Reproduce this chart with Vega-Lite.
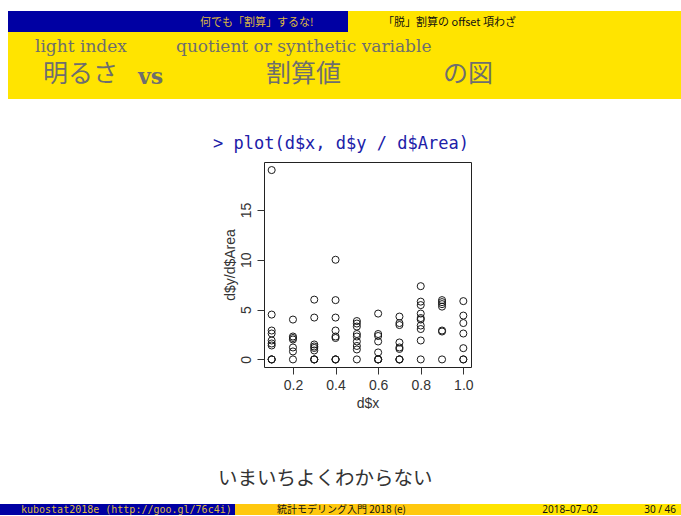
{
  "$schema": "https://vega.github.io/schema/vega-lite/v6.json",
  "padding": {"top": 11, "left": 0, "right": 0, "bottom": 0},
  "background": "white",
  "spacing": 0,
  "bounds": "full",
  "config": {
    "view": {"stroke": null},
    "concat": {"spacing": 0},
    "title": {"anchor": "start", "frame": "group", "orient": "top", "fontWeight": "normal", "baseline": "middle"}
  },
  "vconcat": [
    {
      "spacing": 0, "bounds": "flush",
      "hconcat": [
        {"width": 8, "height": 21, "data": {"values": []}, "mark": "rect"},
        {"width": 340, "height": 21, "view": {"fill": "#0000A3", "stroke": null}, "data": {"values": []}, "mark": "rect",
         "title": {"text": "何でも「割算」するな!", "font": "Noto Sans CJK JP", "fontSize": 11, "color": "#DDB840", "dx": 192, "offset": -16.5}},
        {"width": 333, "height": 21, "view": {"fill": "#FFE400", "stroke": null}, "data": {"values": []}, "mark": "rect",
         "title": {"text": "「脱」割算の offset 項わざ", "font": "Noto Sans CJK JP", "fontSize": 11, "color": "#111111", "dx": 35, "offset": -16.5}}
      ]
    },
    {
      "spacing": 0, "bounds": "flush",
      "hconcat": [
        {"width": 8, "height": 26, "data": {"values": []}, "mark": "rect"},
        {"width": 168, "height": 26, "view": {"fill": "#FFE400", "stroke": null}, "data": {"values": []}, "mark": "rect",
         "title": {"text": "light index", "font": "DejaVu Serif", "fontSize": 17, "color": "#6E6E6E", "dx": 27, "offset": -23.5}},
        {"width": 505, "height": 26, "view": {"fill": "#FFE400", "stroke": null}, "data": {"values": []}, "mark": "rect",
         "title": {"text": "quotient or synthetic variable", "font": "DejaVu Serif", "fontSize": 17, "color": "#6E6E6E", "dx": 0, "offset": -23.5}}
      ]
    },
    {
      "spacing": 0, "bounds": "flush",
      "hconcat": [
        {"width": 8, "height": 41, "data": {"values": []}, "mark": "rect"},
        {"width": 130, "height": 41, "view": {"fill": "#FFE400", "stroke": null}, "data": {"values": []}, "mark": "rect",
         "title": {"text": "明るさ", "font": "Noto Sans CJK JP", "fontSize": 25, "color": "#6E6E6E", "dx": 35, "offset": -28.5}},
        {"width": 128, "height": 41, "view": {"fill": "#FFE400", "stroke": null}, "data": {"values": []}, "mark": "rect",
         "title": {"text": "vs", "font": "DejaVu Serif", "fontSize": 22, "fontWeight": "bold", "color": "#6E6E6E", "dx": 0, "offset": -31}},
        {"width": 177, "height": 41, "view": {"fill": "#FFE400", "stroke": null}, "data": {"values": []}, "mark": "rect",
         "title": {"text": "割算値", "font": "Noto Sans CJK JP", "fontSize": 25, "color": "#6E6E6E", "dx": 0, "offset": -28.5}},
        {"width": 238, "height": 41, "view": {"fill": "#FFE400", "stroke": null}, "data": {"values": []}, "mark": "rect",
         "title": {"text": "の図", "font": "Noto Sans CJK JP", "fontSize": 25, "color": "#6E6E6E", "dx": 0, "offset": -28.5}}
      ]
    },
    {"width": 681, "height": 62, "data": {"values": []}, "mark": "rect",
     "title": {"text": "> plot(d$x, d$y / d$Area)", "font": "DejaVu Sans Mono", "fontSize": 17, "color": "#2020A8", "dx": 213, "offset": -53.5}},
    {
      "spacing": 0, "bounds": "flush",
      "hconcat": [
        {"width": 264, "height": 205, "data": {"values": []}, "mark": "rect"},
        {
          "width": 207, "height": 205,
          "view": {"stroke": "#222222", "strokeWidth": 1, "fill": null},
          "data": {"values": [
            {"x": 0.1, "ratio": 19.0}, {"x": 0.1, "ratio": 4.5}, {"x": 0.1, "ratio": 2.9}, {"x": 0.1, "ratio": 2.6}, {"x": 0.1, "ratio": 1.9}, {"x": 0.1, "ratio": 1.6}, {"x": 0.1, "ratio": 1.4}, {"x": 0.1, "ratio": 0}, {"x": 0.1, "ratio": 0}, {"x": 0.1, "ratio": 0},
            {"x": 0.2, "ratio": 4.0}, {"x": 0.2, "ratio": 2.3}, {"x": 0.2, "ratio": 2.15}, {"x": 0.2, "ratio": 2.0}, {"x": 0.2, "ratio": 1.2}, {"x": 0.2, "ratio": 0.8}, {"x": 0.2, "ratio": 0},
            {"x": 0.3, "ratio": 6.0}, {"x": 0.3, "ratio": 4.2}, {"x": 0.3, "ratio": 1.5}, {"x": 0.3, "ratio": 1.3}, {"x": 0.3, "ratio": 1.15}, {"x": 0.3, "ratio": 0.9}, {"x": 0.3, "ratio": 0}, {"x": 0.3, "ratio": 0}, {"x": 0.3, "ratio": 0},
            {"x": 0.4, "ratio": 10.0}, {"x": 0.4, "ratio": 5.95}, {"x": 0.4, "ratio": 4.2}, {"x": 0.4, "ratio": 2.9}, {"x": 0.4, "ratio": 2.3}, {"x": 0.4, "ratio": 2.15}, {"x": 0.4, "ratio": 0}, {"x": 0.4, "ratio": 0}, {"x": 0.4, "ratio": 0},
            {"x": 0.5, "ratio": 3.85}, {"x": 0.5, "ratio": 3.6}, {"x": 0.5, "ratio": 3.3}, {"x": 0.5, "ratio": 2.55}, {"x": 0.5, "ratio": 2.3}, {"x": 0.5, "ratio": 1.8}, {"x": 0.5, "ratio": 1.35}, {"x": 0.5, "ratio": 1.0}, {"x": 0.5, "ratio": 0},
            {"x": 0.6, "ratio": 4.6}, {"x": 0.6, "ratio": 2.55}, {"x": 0.6, "ratio": 2.35}, {"x": 0.6, "ratio": 1.8}, {"x": 0.6, "ratio": 0.7}, {"x": 0.6, "ratio": 0}, {"x": 0.6, "ratio": 0}, {"x": 0.6, "ratio": 0},
            {"x": 0.7, "ratio": 4.3}, {"x": 0.7, "ratio": 3.65}, {"x": 0.7, "ratio": 3.45}, {"x": 0.7, "ratio": 1.7}, {"x": 0.7, "ratio": 1.2}, {"x": 0.7, "ratio": 1.05}, {"x": 0.7, "ratio": 0}, {"x": 0.7, "ratio": 0}, {"x": 0.7, "ratio": 0},
            {"x": 0.8, "ratio": 7.35}, {"x": 0.8, "ratio": 5.8}, {"x": 0.8, "ratio": 5.45}, {"x": 0.8, "ratio": 4.6}, {"x": 0.8, "ratio": 4.15}, {"x": 0.8, "ratio": 4.0}, {"x": 0.8, "ratio": 3.4}, {"x": 0.8, "ratio": 3.05}, {"x": 0.8, "ratio": 1.9}, {"x": 0.8, "ratio": 0},
            {"x": 0.9, "ratio": 5.95}, {"x": 0.9, "ratio": 5.75}, {"x": 0.9, "ratio": 5.55}, {"x": 0.9, "ratio": 5.3}, {"x": 0.9, "ratio": 2.9}, {"x": 0.9, "ratio": 2.8}, {"x": 0.9, "ratio": 0},
            {"x": 1.0, "ratio": 5.85}, {"x": 1.0, "ratio": 4.4}, {"x": 1.0, "ratio": 3.65}, {"x": 1.0, "ratio": 2.6}, {"x": 1.0, "ratio": 1.13}, {"x": 1.0, "ratio": 0}, {"x": 1.0, "ratio": 0}
          ]},
          "mark": {"type": "point", "shape": "circle", "filled": false, "size": 50, "stroke": "#1a1a1a", "strokeWidth": 1, "opacity": 1},
          "encoding": {
            "x": {"field": "x", "type": "quantitative",
                  "scale": {"domain": [0.064, 1.036], "nice": false, "zero": false},
                  "axis": {"values": [0.2, 0.4, 0.6, 0.8, 1.0], "format": ".1f", "title": "d$x", "domain": false, "grid": false,
                           "tickSize": 7, "tickColor": "#333333", "labelFont": "Liberation Sans", "labelFontSize": 14, "labelColor": "#333333",
                           "labelPadding": 4, "titleFont": "Liberation Sans", "titleFontSize": 14, "titleFontWeight": "normal", "titleColor": "#333333", "titlePadding": 4}},
            "y": {"field": "ratio", "type": "quantitative",
                  "scale": {"domain": [-0.76, 19.81], "nice": false, "zero": false},
                  "axis": {"values": [0, 5, 10, 15], "format": "d", "title": "d$y/d$Area", "domain": false, "grid": false,
                           "tickSize": 7, "tickColor": "#333333", "labelFont": "Liberation Sans", "labelFontSize": 14, "labelColor": "#333333",
                           "labelAngle": -90, "labelAlign": "center", "labelBaseline": "bottom", "labelPadding": 4,
                           "titleFont": "Liberation Sans", "titleFontSize": 14, "titleFontWeight": "normal", "titleColor": "#333333", "titlePadding": 2}}
          }
        },
        {"width": 210, "height": 205, "data": {"values": []}, "mark": "rect"}
      ]
    },
    {"width": 681, "height": 93, "data": {"values": []}, "mark": "rect",
     "title": {"text": "いまいちよくわからない", "font": "Noto Sans CJK JP", "fontSize": 19.5, "color": "#333333", "dx": 218, "offset": -78.75}},
    {
      "spacing": 0, "bounds": "flush",
      "hconcat": [
        {"width": 235, "height": 11, "view": {"fill": "#0000A3", "stroke": null}, "data": {"values": []}, "mark": "rect",
         "title": {"text": "kubostat2018e (http://goo.gl/76c4i)", "font": "DejaVu Sans Mono", "fontSize": 10, "color": "#DDB840", "dx": 21, "offset": -10.5}},
        {"width": 225, "height": 11, "view": {"fill": "#FFC80E", "stroke": null}, "data": {"values": []}, "mark": "rect",
         "title": {"text": "統計モデリング入門 2018 (e)", "font": "Noto Sans CJK JP", "fontSize": 10, "color": "#111111", "dx": 42, "offset": -10.5}},
        {"width": 150, "height": 11, "view": {"fill": "#FFE400", "stroke": null}, "data": {"values": []}, "mark": "rect",
         "title": {"text": "2018–07–02", "font": "Noto Sans", "fontSize": 10, "color": "#111111", "anchor": "end", "dx": -12, "offset": -10.5}},
        {"width": 71, "height": 11, "view": {"fill": "#FFE400", "stroke": null}, "data": {"values": []}, "mark": "rect",
         "title": {"text": "30 / 46", "font": "Noto Sans", "fontSize": 10, "color": "#111111", "anchor": "end", "dx": -5, "offset": -10.5}}
      ]
    }
  ]
}
